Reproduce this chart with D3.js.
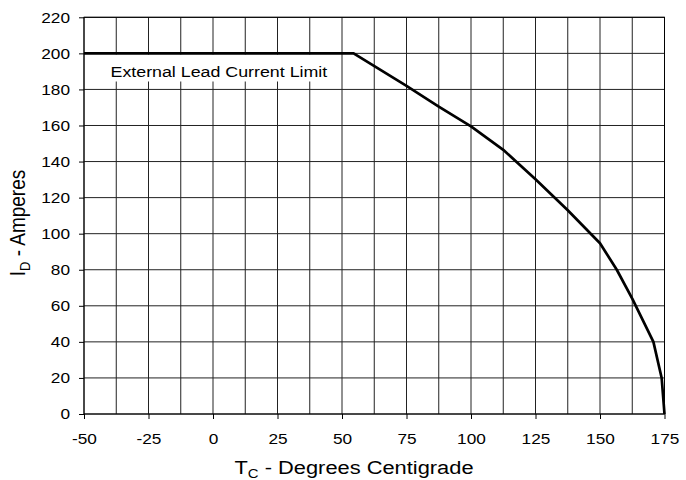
<!DOCTYPE html>
<html>
<head>
<meta charset="utf-8">
<script src="https://cdn.jsdelivr.net/npm/d3@7/dist/d3.min.js"></script>
<style>
  html, body { margin: 0; padding: 0; background: #fff; }
  svg { display: block; }
  text { font-family: "Liberation Sans", Arial, sans-serif; fill: #000; }
</style>
</head>
<body>
<svg id="chart" width="686" height="480"></svg>
<script>
// ---- data ----
const tempC    = [-50, 54.5, 75, 87.5, 100, 112.5, 125, 137.5, 150, 156.5, 162.5, 170.7, 173.9, 175];
const currentA = [200, 200, 182, 170.5, 159.5, 146.5, 130.2, 113, 94.7, 80, 64, 40, 20, 0];
const xTickValues = [-50, -25, 0, 25, 50, 75, 100, 125, 150, 175];
const yTickValues = [0, 20, 40, 60, 80, 100, 120, 140, 160, 180, 200, 220];
const xGridValues = d3.range(-50, 175.01, 12.5);
const yGridValues = d3.range(0, 220.01, 20);
const limitLabel = "External Lead Current Limit";
const xTitleMain = "T", xTitleSub = "C", xTitleRest = " - Degrees Centigrade";
const yTitleMain = "I", yTitleSub = "D", yTitleRest = " - Amperes";

// ---- layout ----
const SX = 1.15; // horizontal text stretch seen in the reference
const svg = d3.select("#chart");
const x = d3.scaleLinear().domain([-50, 175]).range([84, 664.5]);
const y = d3.scaleLinear().domain([0, 220]).range([414, 17.3]);

// grid
const grid = svg.append("g").attr("stroke", "#222").attr("stroke-width", 1);
grid.selectAll("line.gx").data(xGridValues).join("line")
  .attr("x1", d => x(d)).attr("x2", d => x(d))
  .attr("y1", y(0)).attr("y2", y(220));
grid.selectAll("line.gy").data(yGridValues).join("line")
  .attr("x1", x(-50)).attr("x2", x(175))
  .attr("y1", d => y(d)).attr("y2", d => y(d));

// label box (white background covering grid)
svg.append("rect")
  .attr("x", 103).attr("y", 54.5).attr("width", 236).attr("height", 27)
  .attr("fill", "#fff");
svg.append("text")
  .attr("transform", `translate(110.5,76.5) scale(${SX},1)`)
  .attr("font-size", 15.5)
  .text(limitLabel);

// frame
svg.append("rect")
  .attr("x", x(-50)).attr("y", y(220))
  .attr("width", x(175) - x(-50)).attr("height", y(0) - y(220))
  .attr("fill", "none").attr("stroke", "#000").attr("stroke-width", 1);

// axes
const fmt = d => String(d);
const xAxis = svg.append("g").attr("transform", `translate(0,${y(0)})`)
  .call(d3.axisBottom(x).tickValues(xTickValues).tickSize(5).tickPadding(14).tickFormat(fmt));
const yAxis = svg.append("g").attr("transform", `translate(${x(-50)},0)`)
  .call(d3.axisLeft(y).tickValues(yTickValues).tickSize(5).tickPadding(9).tickFormat(fmt));
[xAxis, yAxis].forEach(a => {
  a.select(".domain").remove();
  a.selectAll("line").attr("stroke", "#000");
  a.selectAll("text").attr("font-size", 15).attr("font-family", '"Liberation Sans", Arial, sans-serif');
});
xAxis.selectAll("text").attr("transform", `scale(${SX},1)`);
yAxis.selectAll("text").attr("x", -14 / SX).attr("transform", `scale(${SX},1)`);

// curve
const pts = tempC.map((t, i) => [t, currentA[i]]);
svg.append("path")
  .datum(pts)
  .attr("fill", "none").attr("stroke", "#000").attr("stroke-width", 2.7)
  .attr("stroke-linejoin", "round")
  .attr("d", d3.line().x(d => x(d[0])).y(d => y(d[1])));

// axis titles
const xt = svg.append("text")
  .attr("transform", `translate(354,474) scale(${SX},1)`)
  .attr("text-anchor", "middle").attr("font-size", 19);
xt.append("tspan").text(xTitleMain);
xt.append("tspan").attr("font-size", 13).attr("dy", 4).text(xTitleSub);
xt.append("tspan").attr("dy", -4).text(xTitleRest);

const yt = svg.append("text")
  .attr("transform", `translate(25,223) scale(${SX},1) rotate(-90)`)
  .attr("text-anchor", "middle").attr("font-size", 19);
yt.append("tspan").text(yTitleMain);
yt.append("tspan").attr("font-size", 13).attr("dy", 4).text(yTitleSub);
yt.append("tspan").attr("dy", -4).text(yTitleRest);
</script>
</body>
</html>
